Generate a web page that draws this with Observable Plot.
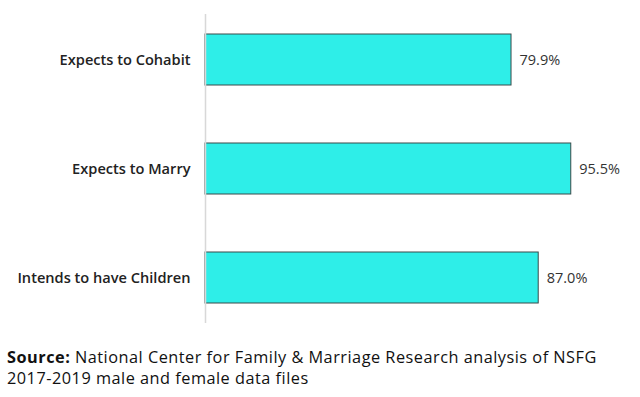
<!DOCTYPE html>
<html>
<head>
<meta charset="utf-8">
<script src="https://cdn.jsdelivr.net/npm/d3@7"></script>
<script src="https://cdn.jsdelivr.net/npm/@observablehq/plot@0.6"></script>
<style>
  body { margin: 0; background: #fff; font-family: "Open Sans", sans-serif; }
  #chart svg { display: block; }
  #caption { position: absolute; left: 7px; top: 347px; font-size: 16.3px; letter-spacing: 0.5px; line-height: 21px; color: #111; font-family: "Open Sans", sans-serif; white-space: nowrap; }
</style>
</head>
<body>
<div id="chart"></div>
<div id="caption"><b>Source:</b> National Center for Family &amp; Marriage Research analysis of NSFG<br>2017-2019 male and female data files</div>
<script>
const categories = ["Expects to Cohabit", "Expects to Marry", "Intends to have Children"];
const values = [79.9, 95.5, 87.0];
const labels = ["79.9%", "95.5%", "87.0%"];

const data = categories.map((c, i) => ({category: c, value: values[i], label: labels[i]}));

const chart = Plot.plot({
  width: 640,
  height: 340,
  marginLeft: 205,
  marginRight: 52,
  marginTop: 14,
  marginBottom: 17,
  style: {fontFamily: "Open Sans, sans-serif", fontSize: "14.5px", color: "#222"},
  x: {domain: [0, 100], axis: null},
  y: {domain: categories, paddingInner: 0.532, paddingOuter: 0.183, label: null, tickSize: 0, tickPadding: 15},
  marks: [
    Plot.axisY({tickSize: 0, tickPadding: 15, fontWeight: 600, fontSize: 14.6, fill: "#222", label: null}),
    Plot.barX(data, {x: "value", y: "category", fill: "#2EEEE8", stroke: "#3a4a4a", strokeWidth: 1}),
    Plot.ruleX([0], {stroke: "#d8d8d8", strokeWidth: 1.5}),
    Plot.text(data, {x: "value", y: "category", text: "label", dx: 8, textAnchor: "start", fill: "#333", fontSize: 14.5})
  ]
});
document.getElementById("chart").appendChild(chart);
</script>
</body>
</html>
